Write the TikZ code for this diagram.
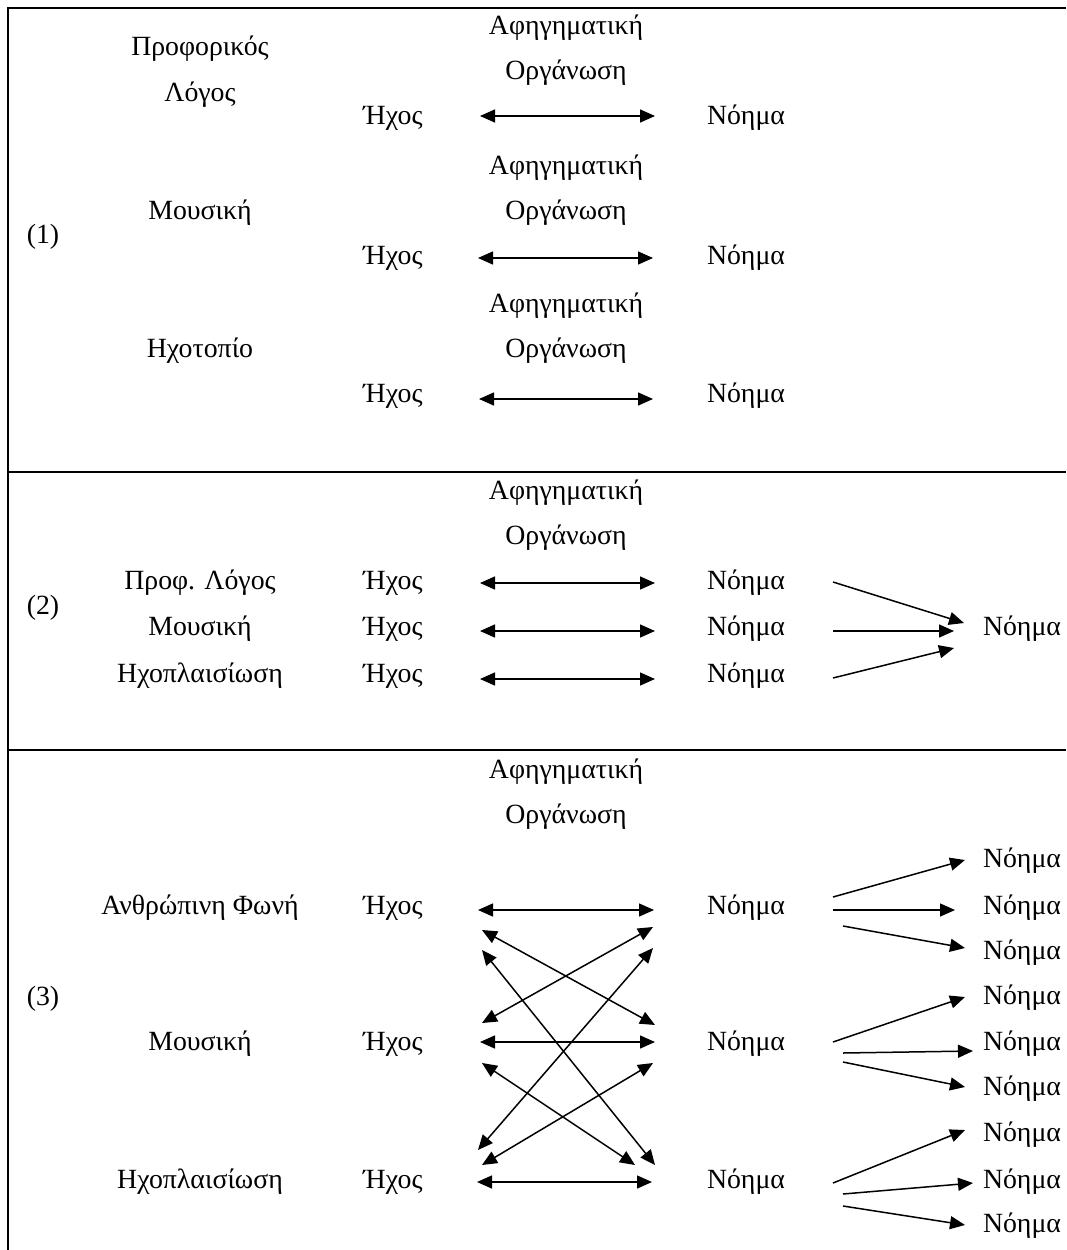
\documentclass[tikz,border=0pt]{standalone}
\usepackage{fontspec}
\setmainfont{Liberation Serif}
\usetikzlibrary{arrows.meta}
\begin{document}
\begin{tikzpicture}[x=1pt,y=-1pt,
  txt/.style={font=\fontsize{27.8}{33}\selectfont, inner sep=0pt, anchor=base},
  tip/.tip={Triangle[length=15pt,width=13pt]},
  link/.style={line width=1.5pt, -tip},
  dlink/.style={line width=1.5pt, tip-tip},
  rule/.style={line width=1.8pt}]
\useasboundingbox (0,0) rectangle (1066,1250);

% table frame and section separators
\draw[rule] (1066,8) -- (8,8) -- (8,1250);
\draw[rule] (8,472) -- (1066,472);
\draw[rule] (8,750) -- (1066,750);

% ---------------- section (1) ----------------
\node[txt] (s1) at (43,243) {(1)};
\node[txt] (pl1) at (200,55) {Προφορικός};
\node[txt] (pl2) at (200,101) {Λόγος};
\node[txt] (ao1) at (566,34) {Αφηγηματική};
\node[txt] (og1) at (566,79) {Οργάνωση};
\node[txt] (ha) at (393,124) {Ήχος};
\node[txt] (na) at (746,124) {Νόημα};

\node[txt] (mu1) at (200,219) {Μουσική};
\node[txt] (ao2) at (566,174) {Αφηγηματική};
\node[txt] (og2) at (566,219) {Οργάνωση};
\node[txt] (hb) at (393,264) {Ήχος};
\node[txt] (nb) at (746,264) {Νόημα};

\node[txt] (ht1) at (200,357) {Ηχοτοπίο};
\node[txt] (ao3) at (566,312) {Αφηγηματική};
\node[txt] (og3) at (566,357) {Οργάνωση};
\node[txt] (hc) at (393,402) {Ήχος};
\node[txt] (nc) at (746,402) {Νόημα};

\coordinate (aL) at (480,116); \coordinate (aR) at (655,116);
\coordinate (bL) at (478,258); \coordinate (bR) at (653,258);
\coordinate (cL) at (479,399); \coordinate (cR) at (653,399);
\draw[dlink] (aL) -- (aR);
\draw[dlink] (bL) -- (bR);
\draw[dlink] (cL) -- (cR);

% ---------------- section (2) ----------------
\node[txt] (s2) at (43,614) {(2)};
\node[txt] (ao4) at (566,499) {Αφηγηματική};
\node[txt] (og4) at (566,544) {Οργάνωση};
\node[txt] (pl3) at (200,589) {Προφ. Λόγος};
\node[txt] (mu2) at (200,635) {Μουσική};
\node[txt] (hp1) at (200,682) {Ηχοπλαισίωση};
\node[txt] (hd) at (393,589) {Ήχος};
\node[txt] (he) at (393,635) {Ήχος};
\node[txt] (hf) at (393,682) {Ήχος};
\node[txt] (nd) at (746,589) {Νόημα};
\node[txt] (ne) at (746,635) {Νόημα};
\node[txt] (nf) at (746,682) {Νόημα};
\node[txt] (nall) at (1022,635) {Νόημα};

\coordinate (dL) at (480,583); \coordinate (dR) at (655,583);
\coordinate (eL) at (480,631); \coordinate (eR) at (655,631);
\coordinate (fL) at (480,679); \coordinate (fR) at (655,679);
\draw[dlink] (dL) -- (dR);
\draw[dlink] (eL) -- (eR);
\draw[dlink] (fL) -- (fR);

\coordinate (d0) at (833,582); \coordinate (d1) at (964,623);
\coordinate (e0) at (833,631); \coordinate (e1) at (954,631);
\coordinate (f0) at (833,678); \coordinate (f1) at (954,648);
\draw[link] (d0) -- (d1);
\draw[link] (e0) -- (e1);
\draw[link] (f0) -- (f1);

% ---------------- section (3) ----------------
\node[txt] (s3) at (43,1005) {(3)};
\node[txt] (ao5) at (566,778) {Αφηγηματική};
\node[txt] (og5) at (566,823) {Οργάνωση};
\node[txt] (af) at (200,914) {Ανθρώπινη Φωνή};
\node[txt] (mu3) at (200,1050) {Μουσική};
\node[txt] (hp2) at (200,1188) {Ηχοπλαισίωση};
\node[txt] (hg) at (393,914) {Ήχος};
\node[txt] (hh) at (393,1050) {Ήχος};
\node[txt] (hi) at (393,1188) {Ήχος};
\node[txt] (ng) at (746,914) {Νόημα};
\node[txt] (nh) at (746,1050) {Νόημα};
\node[txt] (ni) at (746,1188) {Νόημα};

\node[txt] (g1) at (1022,867) {Νόημα};
\node[txt] (g2) at (1022,914) {Νόημα};
\node[txt] (g3) at (1022,959) {Νόημα};
\node[txt] (h1) at (1022,1004) {Νόημα};
\node[txt] (h2) at (1022,1050) {Νόημα};
\node[txt] (h3) at (1022,1095) {Νόημα};
\node[txt] (i1) at (1022,1141) {Νόημα};
\node[txt] (i2) at (1022,1188) {Νόημα};
\node[txt] (i3) at (1022,1232) {Νόημα};

% straight links
\coordinate (gL) at (478,910); \coordinate (gR) at (654,910);
\coordinate (hL) at (480,1042); \coordinate (hR) at (655,1042);
\coordinate (iL) at (477,1182); \coordinate (iR) at (652,1182);
\draw[dlink] (gL) -- (gR);
\draw[dlink] (hL) -- (hR);
\draw[dlink] (iL) -- (iR);

% crossing links
\coordinate (x1a) at (482,930);  \coordinate (x1b) at (655,1025);
\coordinate (x2a) at (482,1023); \coordinate (x2b) at (653,927);
\coordinate (x3a) at (482,950);  \coordinate (x3b) at (655,1165);
\coordinate (x4a) at (478,1150); \coordinate (x4b) at (653,948);
\coordinate (x5a) at (482,1063); \coordinate (x5b) at (635,1165);
\coordinate (x6a) at (482,1165); \coordinate (x6b) at (653,1063);
\draw[dlink] (x1a) -- (x1b);
\draw[dlink] (x2a) -- (x2b);
\draw[dlink] (x3a) -- (x3b);
\draw[dlink] (x4a) -- (x4b);
\draw[dlink] (x5a) -- (x5b);
\draw[dlink] (x6a) -- (x6b);

% fan-out links
\coordinate (g0a) at (833,897);  \coordinate (g1e) at (965,860);
\coordinate (g0b) at (833,910);  \coordinate (g2e) at (955,910);
\coordinate (g0c) at (843,926);  \coordinate (g3e) at (965,948);
\coordinate (h0a) at (833,1042); \coordinate (h1e) at (965,997);
\coordinate (h0b) at (843,1053); \coordinate (h2e) at (973,1051);
\coordinate (h0c) at (843,1062); \coordinate (h3e) at (965,1087);
\coordinate (i0a) at (833,1183); \coordinate (i1e) at (965,1130);
\coordinate (i0b) at (843,1194); \coordinate (i2e) at (973,1183);
\coordinate (i0c) at (843,1206); \coordinate (i3e) at (965,1225);
\draw[link] (g0a) -- (g1e);
\draw[link] (g0b) -- (g2e);
\draw[link] (g0c) -- (g3e);
\draw[link] (h0a) -- (h1e);
\draw[link] (h0b) -- (h2e);
\draw[link] (h0c) -- (h3e);
\draw[link] (i0a) -- (i1e);
\draw[link] (i0b) -- (i2e);
\draw[link] (i0c) -- (i3e);
\end{tikzpicture}
\end{document}
